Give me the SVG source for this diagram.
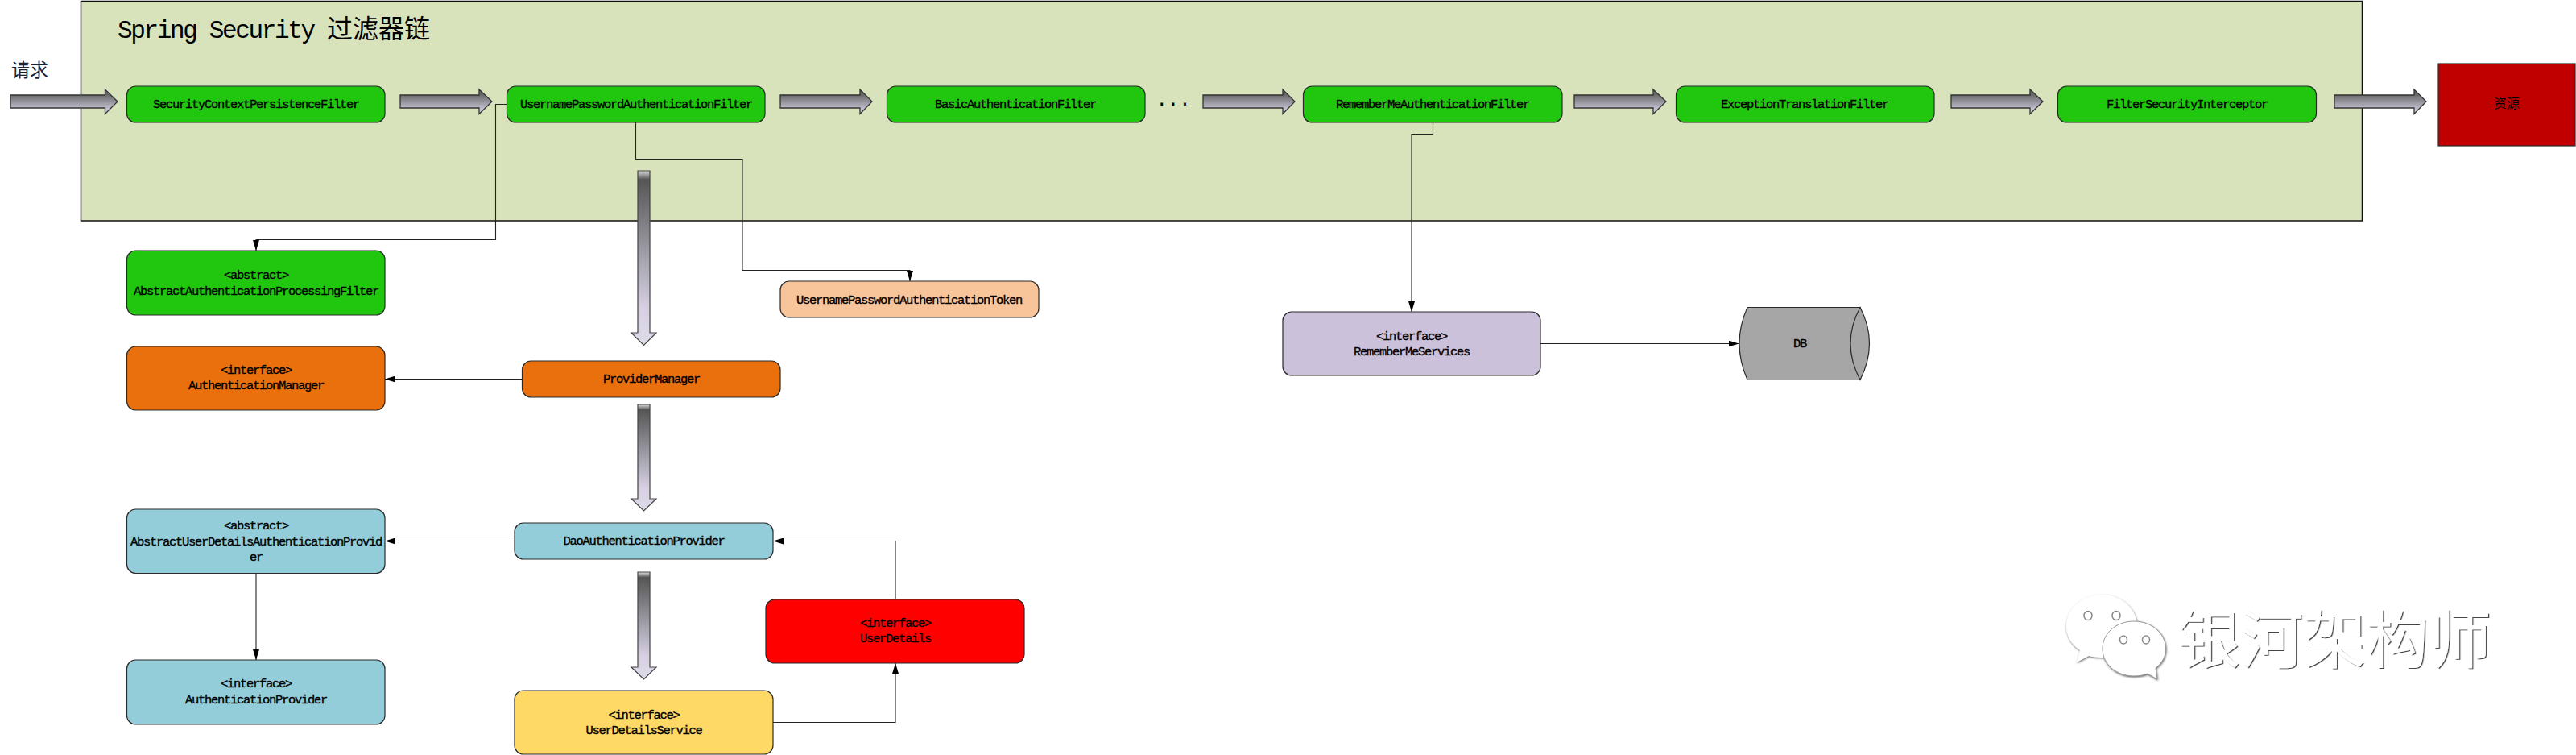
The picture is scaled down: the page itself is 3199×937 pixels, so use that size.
<svg xmlns="http://www.w3.org/2000/svg" width="3199" height="937" viewBox="0 0 3199 937">
<style>
text{font-family:"Liberation Mono","Noto Sans CJK SC",monospace;fill:#000}
.n{stroke:#2a2a2a;stroke-width:1.2}
.l{font-size:15.500px;letter-spacing:-1.300px;text-anchor:middle;stroke:#000;stroke-width:0.35}
.cjk{font-family:"Noto Sans CJK SC",sans-serif}
.g{fill:#21c70f}.o{fill:#e9700d}.b{fill:#93cdda}
.c{fill:none;stroke:#222;stroke-width:1.1}
.ch{fill:url(#gh);stroke:#333;stroke-width:1.3}
.cv{fill:url(#gv);stroke:#444;stroke-width:1.2}
</style>
<defs>
<linearGradient id="gh" x1="0" y1="0" x2="0" y2="1"><stop offset="0.2" stop-color="#666"/><stop offset="0.82" stop-color="#c8c4d6"/></linearGradient>
<linearGradient id="gv" x1="0" y1="0" x2="0" y2="1"><stop offset="0" stop-color="#ddd"/><stop offset="0.05" stop-color="#555"/><stop offset="0.78" stop-color="#d6d0e2"/><stop offset="1" stop-color="#dfdbe9"/></linearGradient>
<marker id="a" viewBox="0 0 13 8" refX="13" refY="4" markerWidth="13" markerHeight="8" markerUnits="userSpaceOnUse" orient="auto"><path d="M0 0L13 4L0 8z" fill="#000"/></marker>
<filter id="em" x="-5%" y="-5%" width="110%" height="110%"><feDropShadow dx="1.300" dy="1" stdDeviation="0.3" flood-color="#444"/></filter>
<filter id="em2" x="-10%" y="-10%" width="120%" height="120%"><feDropShadow dx="0.6" dy="1.200" stdDeviation="1.200" flood-color="#666"/></filter>
</defs>

<rect id="chain" x="100.500" y="1.500" width="2833" height="272.500" fill="#d8e3bc" stroke="#111" stroke-width="1.5"/>
<text id="chain-title" x="146" y="47" font-size="31" letter-spacing="-2.350"><tspan>Spring Security </tspan><tspan class="cjk" x="406" font-size="32" letter-spacing="0">过滤器链</tspan></text>
<text id="request" class="cjk" x="14" y="95" font-size="23" style="fill:#16243a">请求</text>
<text id="dots" x="1457" y="136" font-size="24" text-anchor="middle">···</text>

<g id="connectors">
<path class="c" marker-end="url(#a)" d="M629.500 129.500H615.500V297.500H318V311"/>
<path class="c" marker-end="url(#a)" d="M789.500 152V197.500H922V335.500H1130V349"/>
<path class="c" marker-end="url(#a)" d="M1779.500 152V166.500H1753V387"/>
<path class="c" marker-end="url(#a)" d="M1913 426.500H2159.500"/>
<path class="c" marker-end="url(#a)" d="M648.500 470.500H478"/>
<path class="c" marker-end="url(#a)" d="M639 671.500H478"/>
<path class="c" marker-end="url(#a)" d="M318 711.500V819"/>
<path class="c" marker-end="url(#a)" d="M960 896.500H1112V823"/>
<path class="c" marker-end="url(#a)" d="M1112 744V671.500H960"/>
<polygon class="ch" points="13,118 130.500,118 130.500,111 146,126 130.500,141.500 130.500,134 13,134"/>
<polygon class="ch" points="497,118 595,118 595,111 611,126 595,141.500 595,134 497,134"/>
<polygon class="ch" points="969,118 1068,118 1068,111 1083,126 1068,141.500 1068,134 969,134"/>
<polygon class="ch" points="1494,118 1593,118 1593,111 1608,126 1593,141.500 1593,134 1494,134"/>
<polygon class="ch" points="1955,118 2053,118 2053,111 2069,126 2053,141.500 2053,134 1955,134"/>
<polygon class="ch" points="2423,118 2521,118 2521,111 2537,126 2521,141.500 2521,134 2423,134"/>
<polygon class="ch" points="2899,118 2998,118 2998,111 3013,126 2998,141.500 2998,134 2899,134"/>
<polygon class="cv" points="792,212 807,212 807,413 815,413 799.500,428.500 784,413 792,413"/>
<polygon class="cv" points="792,502 807,502 807,619 815,619 799.500,634 784,619 792,619"/>
<polygon class="cv" points="792,710 807,710 807,828 815,828 799.500,843 784,828 792,828"/>
</g>

<g id="n-scpf"><rect class="n g" x="157.500" y="107" width="320.500" height="45" rx="11"/><text class="l" x="318" y="134">SecurityContextPersistenceFilter</text></g>
<g id="n-upaf"><rect class="n g" x="629.500" y="107" width="320.500" height="45" rx="11"/><text class="l" x="790" y="134">UsernamePasswordAuthenticationFilter</text></g>
<g id="n-baf"><rect class="n g" x="1101.500" y="107" width="320.500" height="45" rx="11"/><text class="l" x="1261" y="134">BasicAuthenticationFilter</text></g>
<g id="n-rmaf"><rect class="n g" x="1618.500" y="107" width="321.500" height="45" rx="11"/><text class="l" x="1779" y="134">RememberMeAuthenticationFilter</text></g>
<g id="n-etf"><rect class="n g" x="2081.500" y="107" width="320.500" height="45" rx="11"/><text class="l" x="2241" y="134">ExceptionTranslationFilter</text></g>
<g id="n-fsi"><rect class="n g" x="2555.500" y="107" width="321" height="45" rx="11"/><text class="l" x="2716" y="134">FilterSecurityInterceptor</text></g>
<g id="n-res"><rect class="n" x="3028" y="79" width="170" height="102" fill="#c00000"/><text class="cjk" x="3113" y="134" font-size="16" text-anchor="middle">资源</text></g>

<g id="n-aapf"><rect class="n g" x="157.500" y="311" width="320.500" height="80" rx="11"/><text class="l" x="318"><tspan x="318" y="346">&lt;abstract&gt;</tspan><tspan x="318" y="366">AbstractAuthenticationProcessingFilter</tspan></text></g>
<g id="n-upat"><rect class="n" fill="#f8c49a" x="969" y="349" width="321" height="45" rx="11"/><text class="l" x="1129" y="377">UsernamePasswordAuthenticationToken</text></g>
<g id="n-am"><rect class="n o" x="157.500" y="430" width="320.500" height="79" rx="11"/><text class="l"><tspan x="318" y="464">&lt;interface&gt;</tspan><tspan x="318" y="483">AuthenticationManager</tspan></text></g>
<g id="n-pm"><rect class="n o" x="648.500" y="448" width="320.500" height="45" rx="11"/><text class="l" x="809" y="475">ProviderManager</text></g>
<g id="n-audap"><rect class="n b" x="157.500" y="632" width="320.500" height="79.500" rx="11"/><text class="l"><tspan x="318" y="657">&lt;abstract&gt;</tspan><tspan x="318" y="677">AbstractUserDetailsAuthenticationProvid</tspan><tspan x="318" y="696">er</tspan></text></g>
<g id="n-dao"><rect class="n b" x="639" y="649" width="321" height="45" rx="11"/><text class="l" x="799.500" y="676">DaoAuthenticationProvider</text></g>
<g id="n-ap"><rect class="n b" x="157.500" y="819" width="320.500" height="80" rx="11"/><text class="l"><tspan x="318" y="853">&lt;interface&gt;</tspan><tspan x="318" y="873">AuthenticationProvider</tspan></text></g>
<g id="n-uds"><rect class="n" fill="#ffd966" x="639" y="857" width="321" height="79" rx="11"/><text class="l"><tspan x="799.500" y="892">&lt;interface&gt;</tspan><tspan x="799.500" y="911">UserDetailsService</tspan></text></g>
<g id="n-ud"><rect class="n" fill="#ff0000" x="951" y="744" width="321" height="79" rx="11"/><text class="l"><tspan x="1112" y="778">&lt;interface&gt;</tspan><tspan x="1112" y="797">UserDetails</tspan></text></g>
<g id="n-rms"><rect class="n" fill="#ccc1da" x="1593" y="387" width="320" height="79" rx="11"/><text class="l"><tspan x="1753" y="422">&lt;interface&gt;</tspan><tspan x="1753" y="441">RememberMeServices</tspan></text></g>
<g id="n-db"><path class="n" fill="#a6a6a6" d="M2170 381.500H2310Q2321.500 426 2310 471.500H2170Q2150 426 2170 381.500z"/><path class="n" fill="#a6a6a6" d="M2310 381.500Q2333 426 2310 471.500Q2286 426 2310 381.500z"/><text class="l" x="2235" y="431">DB</text></g>

<g id="watermark">
<g filter="url(#em2)" fill="#fff">
<path d="M2610 738C2634 738 2654 755 2654 777C2654 799 2634 816 2610 816C2604 816 2599 815 2594 814L2579 822L2583 807C2572 800 2566 789 2566 777C2566 755 2586 738 2610 738z"/>
<path d="M2650 771C2672 771 2689.500 786 2689.500 805C2689.500 815 2685 823 2677 829L2679 843L2667 836C2662 838 2656 839 2650 839C2628 839 2611 824 2611 805C2611 786 2628 771 2650 771z" stroke="#999" stroke-width="1"/>
</g>
<g fill="#fff" stroke="#888" stroke-width="1.500"><ellipse cx="2593" cy="764" rx="5" ry="5.500"/><ellipse cx="2628" cy="764" rx="5" ry="5.500"/><ellipse cx="2637" cy="794" rx="4.500" ry="5"/><ellipse cx="2665" cy="794" rx="4.500" ry="5"/></g>
<text class="cjk" x="2704" y="823" font-size="78" filter="url(#em)" style="fill:#fff">银河架构师</text>
</g>
</svg>
